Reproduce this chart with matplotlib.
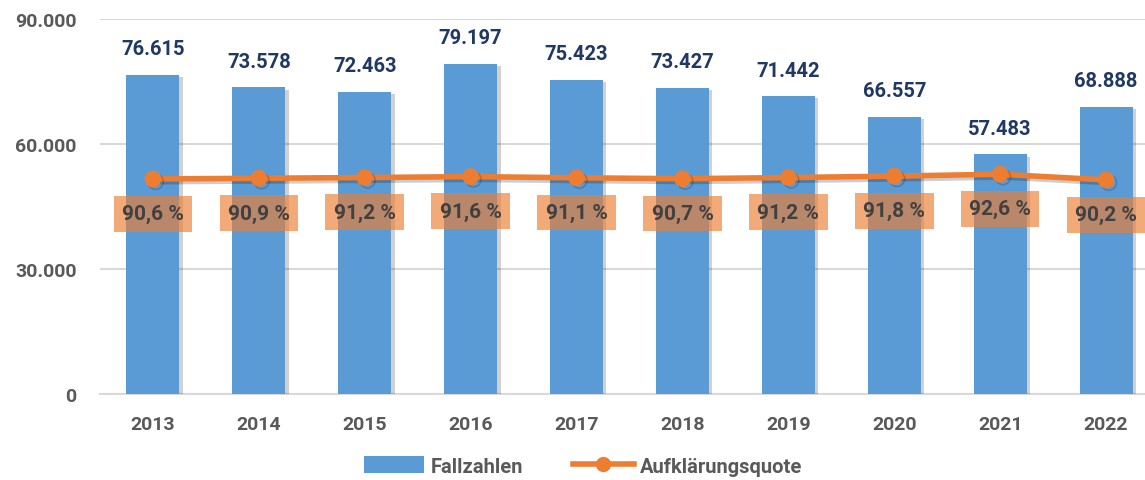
import matplotlib
matplotlib.use("Agg")
import matplotlib.pyplot as plt
import matplotlib.patheffects as pe
from matplotlib.lines import Line2D
from matplotlib.patches import Patch

years = ["2013", "2014", "2015", "2016", "2017", "2018", "2019", "2020", "2021", "2022"]
fallzahlen = [76615, 73578, 72463, 79197, 75423, 73427, 71442, 66557, 57483, 68888]
quote = [90.6, 90.9, 91.2, 91.6, 91.1, 90.7, 91.2, 91.8, 92.6, 90.2]
y_ticks = [0, 30000, 60000, 90000]
y_labels = ["0", "30.000", "60.000", "90.000"]

plt.rcParams['font.family'] = ['Roboto', 'DejaVu Sans']

BLUE = "#5B9BD5"
ORANGE = "#ED7D31"
GRAY = "#595959"
NAVY = "#1F3864"

fig = plt.figure(figsize=(11.45, 4.81), dpi=100)
ax = fig.add_axes([100/1145, 86/481, 1059/1145, 375/481])
x = list(range(len(years)))

bars = ax.bar(x, fallzahlen, width=0.5, color=BLUE, zorder=3)
for b in bars:
    b.set_path_effects([pe.SimplePatchShadow(offset=(2.5, -1.5), shadow_rgbFace="black", alpha=0.18), pe.Normal()])

for xi, v in zip(x, fallzahlen):
    ax.annotate(f"{v:,}".replace(",", "."), (xi, v), xytext=(0, 12), textcoords="offset points",
                ha="center", va="bottom", fontsize=14.5, fontweight="bold", color=NAVY)

ax.set_ylim(0, 90000)
ax.set_xlim(-0.5, len(years) - 0.5)
ax.set_yticks(y_ticks)
ax.set_yticklabels(y_labels)
ax.set_xticks(x)
ax.set_xticklabels(years)
ax.tick_params(axis="both", length=0, labelsize=14, labelcolor=GRAY)
ax.tick_params(axis="y", pad=17)
ax.tick_params(axis="x", pad=15)
for lab in ax.get_xticklabels() + ax.get_yticklabels():
    lab.set_fontweight("bold")
ax.grid(axis="y", color="#D9D9D9", linewidth=1.5, zorder=0)
ax.set_axisbelow(True)
for s in ["top", "right", "left"]:
    ax.spines[s].set_visible(False)
ax.spines["bottom"].set_color("#D9D9D9")
ax.spines["bottom"].set_linewidth(1.5)

ax2 = ax.twinx()
ax2.set_ylim(0, 158)
ax2.axis("off")
ax2.plot(x, quote, color=ORANGE, linewidth=4, marker="o", markersize=11, zorder=4,
         path_effects=[pe.SimpleLineShadow(offset=(2, -2), alpha=0.2), pe.Normal()])
for xi, q in zip(x, quote):
    ax2.annotate(f"{q:.1f} %".replace(".", ","), (xi, q), xytext=(0, -25), textcoords="offset points",
                 ha="center", va="center", fontsize=15, fontweight="bold", color="#404040",
                 bbox=dict(boxstyle="square,pad=0.4", facecolor=ORANGE, edgecolor="none", alpha=0.65))

handles = [Patch(facecolor=BLUE, edgecolor="none"),
           Line2D([0], [0], color=ORANGE, linewidth=4, marker="o", markersize=10)]
leg = fig.legend(handles, ["Fallzahlen", "Aufklärungsquote"], loc="center", bbox_to_anchor=(583/1145, 1 - 467/481),
                 ncol=2, frameon=False, handlelength=3.0, handleheight=0.9, handletextpad=0.3, columnspacing=2.5,
                 prop=dict(size=14.5, weight="bold"))
for t in leg.get_texts():
    t.set_color(GRAY)

fig.savefig("out.png", dpi=100)
